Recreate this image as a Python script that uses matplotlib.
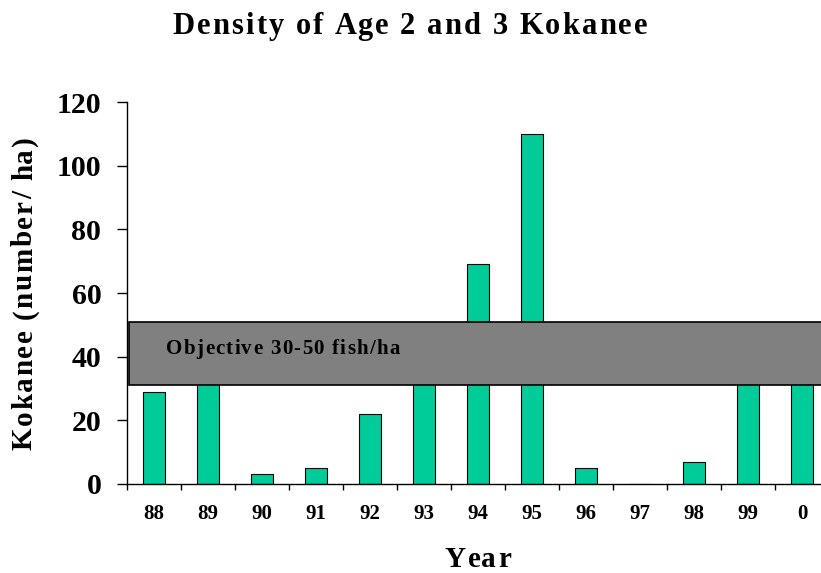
# Density of age 2 and 3 kokanee, with the 30-50 fish/ha objective band
import matplotlib.pyplot as plt
from matplotlib.font_manager import FontProperties

years = ['88', '89', '90', '91', '92', '93', '94', '95', '96', '97', '98', '99', '0']
density = [29, 40, 3, 5, 22, 45, 69, 110, 5, 0, 7, 36, 38]
objective_low, objective_high = 31, 51

FAMILY = ['Liberation Serif', 'DejaVu Serif']
plt.rcParams['font.family'] = FAMILY
plt.rcParams['font.weight'] = 'bold'

W, H = 821, 573
fig = plt.figure(figsize=(W / 100, H / 100), dpi=100)
ax = fig.add_axes([127 / W, 89 / H, 702 / W, 382 / H])
renderer = fig.canvas.get_renderer()


def advance(text, prop):
    # width of text including spaces, in pixels
    w = lambda t: renderer.get_text_width_height_descent(t, prop, ismath=False)[0]
    return w('|' + text + '|') - w('||')


def tracked_text(s, x, y, size, width=None, tracking=0.0, align='center', rotation=0):
    """draw letter-spaced text; x, y in figure pixels (baseline), along the reading direction"""
    prop = FontProperties(family=FAMILY, weight='bold', size=size)
    natural = advance(s, prop)
    if width is not None:
        tracking = (width - natural) / (len(s) - 1)
    total = natural + tracking * (len(s) - 1)
    pos0 = (x if rotation == 0 else y)
    if align == 'center':
        pos0 -= total / 2
    for i, ch in enumerate(s):
        off = pos0 + advance(s[:i], prop) + tracking * i
        px, py = (off, y) if rotation == 0 else (x, off)
        fig.text(px / W, py / H, ch, fontproperties=prop, ha='left', va='baseline',
                 rotation=rotation, rotation_mode='anchor')


x = list(range(len(years)))
ax.bar(x, density, width=0.4, color='#00CC99', edgecolor='black', linewidth=0.8, zorder=2)

# objective band drawn over the bars
ax.axhspan(objective_low, objective_high, xmin=0.003, xmax=1.0, facecolor='#808080',
           edgecolor='black', linewidth=1.2, zorder=3)

ax.set_xlim(-0.5, len(years) - 0.5)
ax.set_ylim(0, 120)
ax.set_yticks(range(0, 121, 20))
ax.tick_params(axis='y', labelsize=21.5, length=7, width=1, direction='out', pad=11.5)

# ticks between categories, labels centred under bars
ax.set_xticks([i - 0.5 for i in range(len(years) + 1)])
ax.set_xticklabels([])
ax.set_xticks(x, minor=True)
ax.set_xticklabels(years, minor=True)
ax.tick_params(axis='x', which='major', length=4.3, width=1, direction='out')
ax.tick_params(axis='x', which='minor', length=0, labelsize=15, pad=14.5)

for side in ['top', 'right']:
    ax.spines[side].set_visible(False)
ax.spines['left'].set_linewidth(1)
ax.spines['bottom'].set_linewidth(1)

# letter-spaced labels
tracked_text('Density of Age 2 and 3 Kokanee', 410, H - 34, 22, width=475)
tracked_text('Kokanee (number/ ha)', 32, H - 293, 21, width=313, rotation=90)
tracked_text('Year', 478, H - 567, 21, width=67)
tracked_text('Objective 30-50 fish/ha', 166, H - 354, 15, tracking=1.3, align='left')

fig.savefig('out.png', dpi=100)
